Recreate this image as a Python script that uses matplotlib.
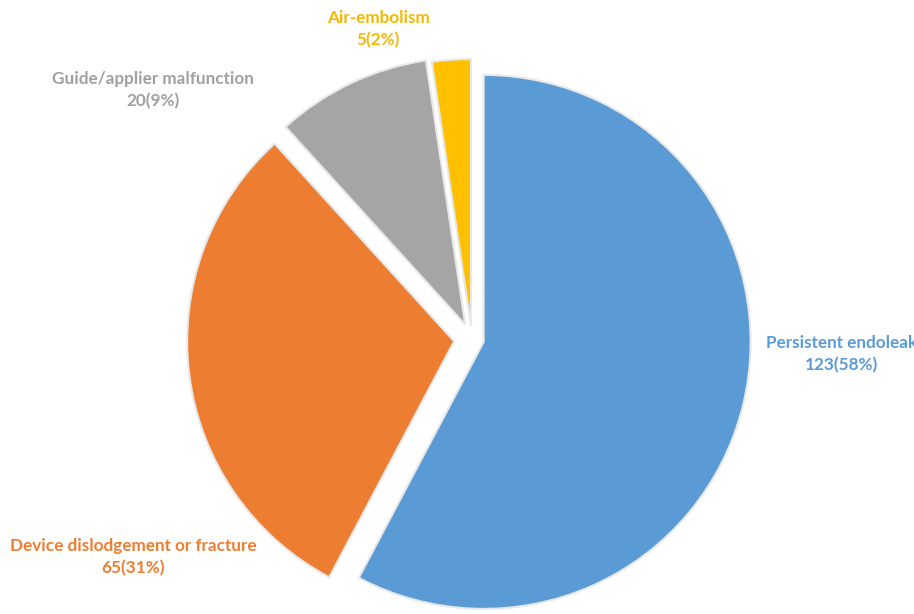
import matplotlib
matplotlib.use("Agg")
import matplotlib.pyplot as plt

labels = ["Persistent endoleak", "Device dislodgement or fracture",
          "Guide/applier malfunction", "Air-embolism"]
counts = [123, 65, 20, 5]
percents = [58, 31, 9, 2]
colors = ["#5B9BD5", "#ED7D31", "#A5A5A5", "#FFC000"]
text_colors = ["#5B9BD5", "#ED7D31", "#A0A0A0", "#F5B800"]
# explode is in data units (pixels here)
explode = [12, 18, 16, 13]

# label anchor points (pixels, y from bottom)
label_pos = [(842, 260), (133, 57), (153, 524), (378, 585)]

fig = plt.figure(figsize=(9.14, 6.14), dpi=100)
ax = fig.add_axes([0, 0, 1, 1])

ax.pie(counts, colors=colors, explode=explode, startangle=90, counterclock=False,
       radius=267, center=(472, 275),
       wedgeprops=dict(edgecolor="#e8e8e8", linewidth=1.5))
ax.set_xlim(0, 914)
ax.set_ylim(0, 614)
ax.set_aspect("auto")
ax.axis("off")

for lab, n, p, c, (x, y) in zip(labels, counts, percents, text_colors, label_pos):
    ax.text(x, y, f"{lab}\n{n}({p}%)", ha="center", va="center", color=c,
            fontsize=12.3, fontweight="bold", family="Lato", linespacing=1.4,
            clip_on=False)

fig.savefig("out.png", dpi=100)
